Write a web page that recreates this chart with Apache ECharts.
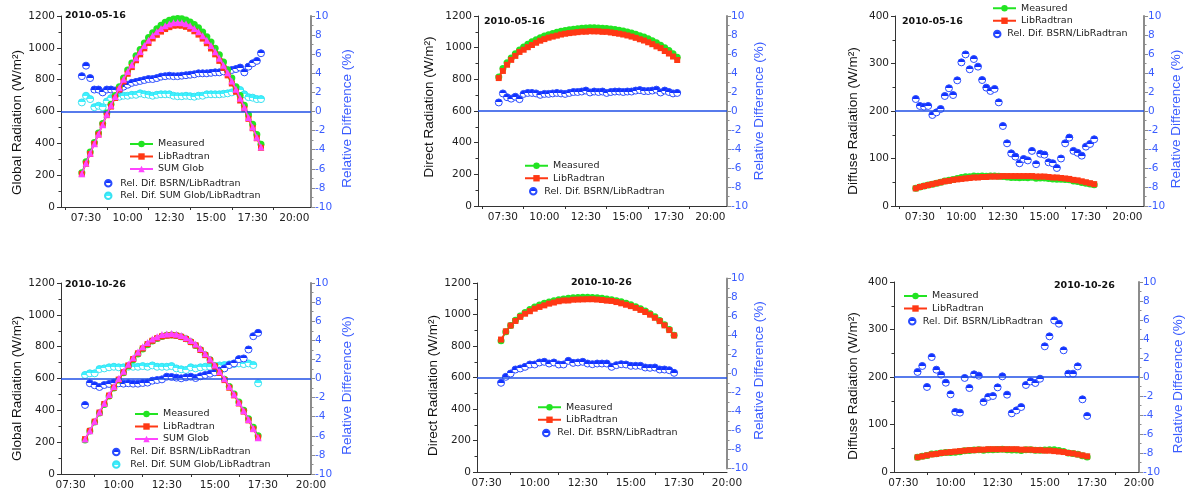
<!DOCTYPE html>
<html>
<head>
<meta charset="utf-8">
<script src="https://cdn.jsdelivr.net/npm/echarts@6/dist/echarts.min.js"></script>
<style>html,body{margin:0;padding:0;background:#fff}#c{width:1186px;height:493px}</style>
</head>
<body>
<div id="c"></div>
<script>
// ---------- categories (times) ----------
const timesMay = ['07:15','07:30','07:45','08:00','08:15','08:30','08:45','09:00','09:15','09:30','09:45','10:00','10:15','10:30','10:45','11:00','11:15','11:30','11:45','12:00','12:15','12:30','12:45','13:00','13:15','13:30','13:45','14:00','14:15','14:30','14:45','15:00','15:15','15:30','15:45','16:00','16:15','16:30','16:45','17:00','17:15','17:30','17:45','18:00'];
const timesOct = ['08:15','08:30','08:45','09:00','09:15','09:30','09:45','10:00','10:15','10:30','10:45','11:00','11:15','11:30','11:45','12:00','12:15','12:30','12:45','13:00','13:15','13:30','13:45','14:00','14:15','14:30','14:45','15:00','15:15','15:30','15:45','16:00','16:15','16:30','16:45','17:00','17:15'];

// ---------- tick labels ----------
const xTickLabels = ['07:30','10:00','12:30','15:00','17:30','20:00'];
const xTicksMay = ['06:15','08:45','11:15','13:45','16:15','18:45'];
const xTicksOct = ['08:45','11:15','13:45','16:15','18:45'];
const dateMay = '2010-05-16';
const dateOct = '2010-10-26';

// ---------- 2010-05-16 global ----------
const mayGlobMeasured = [215,285,345,405,465,525,590,645,700,755,810,860,905,950,990,1030,1065,1095,1120,1142,1160,1173,1181,1184,1182,1175,1163,1147,1126,1100,1070,1036,998,956,911,862,810,756,700,640,580,520,455,395];
const mayGlobLib = [207,272,333,396,455,515,577,631,685,738,789,837,879,922,959,997,1030,1059,1082,1102,1118,1130,1139,1141,1139,1132,1120,1104,1083,1058,1029,996,959,918,874,827,776,724,669,615,554,495,432,372];
const mayGlobSum = [209,276,337,398,458,517,583,640,695,750,802,851,894,938,977,1015,1048,1077,1101,1122,1138,1150,1158,1159,1157,1151,1138,1121,1101,1076,1048,1014,976,935,890,843,791,740,684,626,562,502,438,377];
const mayGlobRelBsrn = [3.7,4.8,3.5,2.3,2.3,2.0,2.3,2.3,2.2,2.3,2.6,2.8,3.0,3.1,3.2,3.3,3.4,3.4,3.5,3.65,3.7,3.75,3.7,3.7,3.75,3.8,3.85,3.9,4.0,4.0,4.0,4.05,4.1,4.1,4.2,4.3,4.35,4.45,4.6,4.1,4.7,5.05,5.3,6.1];
const mayGlobRelSum = [0.95,1.65,1.3,0.45,0.6,0.45,1.05,1.4,1.5,1.55,1.65,1.65,1.75,1.75,1.9,1.8,1.75,1.65,1.75,1.8,1.8,1.8,1.65,1.6,1.6,1.65,1.6,1.55,1.65,1.65,1.8,1.8,1.8,1.8,1.85,1.9,2.0,2.2,2.25,1.8,1.5,1.45,1.3,1.3];
// ---------- 2010-05-16 direct ----------
const mayDirMeasured = [815,869,905,935,962,985,1005,1022,1037,1050,1062,1073,1082,1090,1097,1103,1108,1113,1117,1120,1123,1125,1126,1126,1125,1123,1121,1118,1114,1110,1105,1099,1092,1085,1076,1067,1056,1044,1031,1016,1000,982,962,940];
const mayDirLib = [808,853,892,923,948,973,987,1003,1017,1031,1044,1054,1063,1070,1076,1083,1088,1092,1095,1098,1101,1101,1104,1103,1103,1100,1100,1096,1092,1088,1083,1077,1070,1062,1053,1045,1034,1022,1008,997,979,963,944,922];
const mayDirRel = [0.9,1.85,1.45,1.3,1.5,1.25,1.8,1.9,1.9,1.85,1.7,1.8,1.8,1.85,1.9,1.85,1.8,1.9,2.0,2.0,2.05,2.15,1.95,2.05,2.0,2.05,1.9,2.0,2.05,2.05,2.0,2.05,2.05,2.15,2.2,2.1,2.1,2.15,2.25,1.95,2.15,2.0,1.85,1.9];
// ---------- 2010-05-16 diffuse ----------
const mayDifMeasured = [37.5,40.2,42.2,44.2,45.8,47.9,50.1,52.8,54.3,55.9,57.8,59.9,61.5,61.6,63.3,62.8,63.0,62.5,63.3,63.4,62.6,62.0,60.9,60.2,60.0,59.5,59.8,59.7,60.4,58.5,59.2,59.1,57.7,56.7,56.4,56.1,56.0,55.4,52.7,51.6,49.6,48.1,46.3,44.6];
const mayDifLib = [37,40,42,44,46,48,50,52,53,55,56,57,58,59,60,60,61,61,62,62,62,63,63,63,63,63,63,63,63,62,62,62,61,60,60,59,58,57,55,54,52,50,48,46];
const mayDifRel = [1.26,0.53,0.46,0.53,-0.42,-0.14,0.21,1.58,2.39,1.68,3.23,5.12,5.96,4.39,5.47,4.67,3.26,2.46,2.11,2.32,0.91,-1.58,-3.4,-4.46,-4.8,-5.5,-5.05,-5.2,-4.2,-5.6,-4.5,-4.6,-5.4,-5.5,-6.0,-5.0,-3.4,-2.8,-4.2,-4.4,-4.7,-3.75,-3.47,-2.98];
// ---------- 2010-10-26 global ----------
const octGlobMeasured = [213,270,327,383,437,490,541,590,636,679,718,754,785,812,835,852,864,871,873,870,862,849,831,808,781,750,718,680,640,596,550,502,452,400,347,294,240];
const octGlobLib = [219,271,329,386,440,493,543,593,639,682,722,758,789,816,837,853,865,869,872,869,862,848,829,808,779,747,714,676,635,590,542,494,443,392,337,282,229];
const octGlobSum = [220,272,331,390,445,499,550,600,646,690,731,767,799,826,848,863,876,880,883,878,870,856,839,817,788,756,723,685,644,598,550,501,450,398,342,286,228];
const octGlobRelBsrn = [-2.77,-0.5,-0.71,-0.89,-0.68,-0.57,-0.43,-0.5,-0.54,-0.5,-0.54,-0.54,-0.47,-0.43,-0.23,-0.16,-0.09,0.19,0.16,0.09,0.02,0.12,0.19,0.05,0.23,0.37,0.5,0.64,0.82,1.06,1.41,1.58,2.03,2.1,3.04,4.43,4.78];
const octGlobRelSum = [0.37,0.54,0.54,0.99,1.06,1.17,1.23,1.17,1.17,1.23,1.23,1.23,1.3,1.23,1.37,1.23,1.23,1.23,1.3,1.06,0.96,0.89,1.17,1.06,1.17,1.23,1.23,1.3,1.37,1.41,1.48,1.51,1.58,1.51,1.58,1.41,-0.5];
// ---------- 2010-10-26 direct ----------
const octDirMeasured = [833,890,930,963,990,1012,1031,1047,1060,1071,1080,1088,1094,1099,1103,1106,1108,1109,1109,1108,1106,1103,1099,1094,1088,1081,1072,1062,1050,1037,1022,1005,985,962,935,904,868];
const octDirLib = [841,893,930,959,985,1005,1021,1037,1048,1058,1069,1076,1084,1089,1089,1094,1095,1096,1097,1097,1095,1092,1088,1086,1079,1071,1062,1053,1042,1029,1016,999,979,958,931,901,867];
const octDirRel = [-0.98,-0.35,0.0,0.42,0.53,0.7,0.95,0.95,1.16,1.23,1.05,1.16,0.95,0.95,1.33,1.12,1.16,1.23,1.05,0.98,1.05,1.05,1.05,0.7,0.88,0.98,0.95,0.81,0.81,0.81,0.63,0.6,0.63,0.42,0.42,0.35,0.07];
// ---------- 2010-10-26 diffuse ----------
const octDifMeasured = [31.2,33.4,34.6,37.8,38.3,40.1,40.8,41.2,41.4,42.4,45.0,45.5,46.1,47.1,45.8,47.0,47.0,47.5,48.0,47.1,46.2,46.3,45.5,46.6,46.8,45.7,45.9,46.5,46.9,46.6,45.4,43.2,40.1,39.1,37.4,34.2,31.6];
const octDifLib = [31,33,35,37,38,40,41,42,43,44,45,46,46,47,47,48,48,48,48,48,48,48,47,47,47,46,46,45,45,44,43,42,40,39,37,35,33];
const octDifRel = [0.53,1.16,-1.05,2.1,0.77,0.25,-0.6,-1.82,-3.68,-3.75,-0.1,-1.16,0.28,0.14,-2.63,-2.1,-2.0,-1.09,0.07,-1.86,-3.82,-3.51,-3.16,-0.84,-0.46,-0.63,-0.18,3.23,4.28,5.96,5.61,2.81,0.35,0.35,1.12,-2.35,-4.1];

// ---------- helpers ----------
const toH = s => { const p = s.split(':'); return (+p[0]) + (+p[1]) / 60; };
const fmtH = v => { const h = Math.floor(v + 1e-6); const m = Math.round((v - h) * 60); return String(h).padStart(2, '0') + ':' + String(m).padStart(2, '0'); };
const plain = v => String(v);
const pairs = (times, vals) => times.map((t, i) => [toH(t), vals[i]]);

const FONT = '"DejaVu Sans", Verdana, sans-serif';
const NAMEFONT = '"Liberation Sans", Arial, sans-serif';
const BLUE_TXT = '#3a5cff';
const C_MEAS = '#22e422', C_LIB = '#ff3814', C_SUM = '#ff44ff';
const C_BSRN = '#1232ff', C_BSRN_B = '#2a4cff', C_CYAN = '#3ef2ff', C_CYAN_B = '#38e2f2';
const ZERO_COLOR = '#1f4fe6';

const half = c => new echarts.graphic.LinearGradient(0, 0, 0, 1, [
  { offset: 0, color: c }, { offset: 0.5, color: c }, { offset: 0.5, color: '#ffffff' }, { offset: 1, color: '#ffffff' }]);

// grids
const grids = [
  { left: 61, top: 16, width: 250, height: 191 },
  { left: 478, top: 16, width: 249, height: 190 },
  { left: 895, top: 16, width: 249, height: 190 },
  { left: 61, top: 283, width: 250, height: 191 },
  { left: 477, top: 283, width: 250, height: 189 },
  { left: 894, top: 282, width: 250, height: 190 },
  { left: 477, top: 278.5, width: 250, height: 190 } // right axis of panel 5 (offset in reference)
];

const xAxes = [];
const yAxes = [];
const series = [];
const legends = [];

function addX(gi, min, max, ticks, show) {
  xAxes.push({
    gridIndex: gi, type: 'value', min, max, show: show !== false,
    axisLine: { onZero: false, lineStyle: { color: '#333', width: 1 } },
    axisTick: { customValues: ticks.map(toH), length: 3, lineStyle: { color: '#333' } },
    axisLabel: { customValues: xTickLabels.map(toH), formatter: fmtH, fontSize: 10.5, color: '#222', fontFamily: FONT, margin: 6 },
    splitLine: { show: false }
  });
  return xAxes.length - 1;
}
function addYLeft(gi, max, interval, name, gap, pad) {
  yAxes.push({
    gridIndex: gi, type: 'value', position: 'left', min: 0, max, interval,
    axisLine: { show: true, lineStyle: { color: '#333', width: 1 } },
    axisTick: { show: true, length: 4, lineStyle: { color: '#333' } },
    minorTick: { show: true, splitNumber: 2, length: 2.5, lineStyle: { color: '#333' } },
    axisLabel: { fontSize: 10.5, color: '#222', fontFamily: FONT, margin: 6, formatter: plain },
    splitLine: { show: false },
    name, nameLocation: 'middle', nameGap: gap, nameRotate: 90,
    nameTextStyle: { fontFamily: NAMEFONT, fontSize: 13.5, color: '#111', padding: pad }
  });
  return yAxes.length - 1;
}
function addYRight(gi, gap, pad) {
  yAxes.push({
    gridIndex: gi, type: 'value', position: 'right', min: -10, max: 10, interval: 2,
    axisLine: { show: true, lineStyle: { color: '#8c8c8c', width: 2 } },
    axisTick: { show: true, length: 4, lineStyle: { color: '#8c8c8c' } },
    minorTick: { show: true, splitNumber: 2, length: 2.5, lineStyle: { color: '#8c8c8c' } },
    axisLabel: { fontSize: 10.5, color: BLUE_TXT, fontFamily: FONT, margin: 4, formatter: plain },
    splitLine: { show: false },
    name: 'Relative Difference (%)', nameLocation: 'middle', nameGap: gap, nameRotate: 90,
    nameTextStyle: { fontFamily: NAMEFONT, fontSize: 13.5, color: BLUE_TXT, padding: pad }
  });
  return yAxes.length - 1;
}
function lineS(name, times, vals, xi, yi, color, symbol, size, z, zeroAt) {
  const s = {
    type: 'line', name, xAxisIndex: xi, yAxisIndex: yi, data: pairs(times, vals),
    symbol, symbolSize: size, showAllSymbol: true, z,
    itemStyle: { color }, lineStyle: { color, width: 1.5 }, emphasis: { disabled: true }
  };
  if (zeroAt !== undefined) {
    s.markLine = { silent: true, symbol: ['none', 'none'], label: { show: false },
      lineStyle: { color: ZERO_COLOR, width: 1.5, type: 'solid' }, data: [{ yAxis: zeroAt }] };
  }
  return s;
}
function relS(name, times, vals, xi, yi, top, border, z) {
  return {
    type: 'scatter', name, xAxisIndex: xi, yAxisIndex: yi, data: pairs(times, vals),
    symbol: 'circle', symbolSize: 7, z,
    itemStyle: { color: half(top), borderColor: border, borderWidth: 1, opacity: 1 },
    emphasis: { disabled: true }
  };
}
function legend(left, top, names, w, h) {
  legends.push({
    orient: 'vertical', left, top, padding: 0, itemGap: 0, itemWidth: w, itemHeight: h,
    data: names, selectedMode: false,
    textStyle: { fontFamily: FONT, fontSize: 9.5, color: '#222', lineHeight: 12.5 }
  });
}

const N_MEAS = 'Measured', N_LIB = 'LibRadtran', N_SUM = 'SUM Glob';
const N_RB = 'Rel. Dif. BSRN/LibRadtran', N_RS = 'Rel. Dif. SUM Glob/LibRadtran';

// Panel 1: May global
{
  const x = addX(0, 6, 21, xTicksMay);
  const yl = addYLeft(0, 1200, 200, 'Global Radiation (W/m²)', 36, [0, 22, 0, 0]);
  const yr = addYRight(0, 29, [0, 14, 0, 0]);
  series.push(relS(N_RS, timesMay, mayGlobRelSum, x, yr, C_CYAN, C_CYAN_B, 2));
  series.push(relS(N_RB, timesMay, mayGlobRelBsrn, x, yr, C_BSRN, C_BSRN_B, 2));
  series.push(lineS(N_MEAS, timesMay, mayGlobMeasured, x, yl, C_MEAS, 'circle', 7, 3, 600));
  series.push(lineS(N_LIB, timesMay, mayGlobLib, x, yl, C_LIB, 'rect', 6, 4));
  series.push(lineS(N_SUM, timesMay, mayGlobSum, x, yl, C_SUM, 'triangle', 7, 5));
  legend(129, 137.75, [N_MEAS, N_LIB, N_SUM], 23, 8);
  legend(104, 177, [N_RB, N_RS], 14, 6.5);
}
// Panel 2: May direct
{
  const x = addX(1, 6, 21, xTicksMay);
  const yl = addYLeft(1, 1200, 200, 'Direct Radiation (W/m²)', 42, [0, 0, 0, 8]);
  const yr = addYRight(1, 23, [0, 0, 0, 0]);
  series.push(relS(N_RB, timesMay, mayDirRel, x, yr, C_BSRN, C_BSRN_B, 2));
  series.push(lineS(N_MEAS, timesMay, mayDirMeasured, x, yl, C_MEAS, 'circle', 7, 3, 600));
  series.push(lineS(N_LIB, timesMay, mayDirLib, x, yl, C_LIB, 'rect', 6, 4));
  legend(524, 159.5, [N_MEAS, N_LIB], 23, 8);
  legend(529, 185, [N_RB], 12, 6.5);
}
// Panel 3: May diffuse
{
  const x = addX(2, 6, 21, xTicksMay);
  const yl = addYLeft(2, 400, 100, 'Diffuse Radiation (W/m²)', 35, [0, 20, 0, 0]);
  const yr = addYRight(2, 25, [0, 16, 0, 0]);
  series.push(relS(N_RB, timesMay, mayDifRel, x, yr, C_BSRN, C_BSRN_B, 2));
  series.push(lineS(N_MEAS, timesMay, mayDifMeasured, x, yl, C_MEAS, 'circle', 7, 3, 200));
  series.push(lineS(N_LIB, timesMay, mayDifLib, x, yl, C_LIB, 'rect', 6, 4));
  legend(992, 2, [N_MEAS, N_LIB], 23, 8);
  legend(993, 27.75, [N_RB], 10, 6.5);
}
// Panel 4: Oct global
{
  const x = addX(3, 7, 20, xTicksOct);
  const yl = addYLeft(3, 1200, 200, 'Global Radiation (W/m²)', 36, [0, 20, 0, 0]);
  const yr = addYRight(3, 29, [0, 14, 0, 0]);
  series.push(relS(N_RS, timesOct, octGlobRelSum, x, yr, C_CYAN, C_CYAN_B, 2));
  series.push(relS(N_RB, timesOct, octGlobRelBsrn, x, yr, C_BSRN, C_BSRN_B, 2));
  series.push(lineS(N_MEAS, timesOct, octGlobMeasured, x, yl, C_MEAS, 'circle', 7, 3, 600));
  series.push(lineS(N_LIB, timesOct, octGlobLib, x, yl, C_LIB, 'rect', 6, 4));
  series.push(lineS(N_SUM, timesOct, octGlobSum, x, yl, C_SUM, 'triangle', 7, 5));
  legend(134, 407.75, [N_MEAS, N_LIB, N_SUM], 23, 8);
  legend(112, 445.75, [N_RB, N_RS], 18, 6.5);
}
// Panel 5: Oct direct (right axis sits in its own, slightly raised, grid)
{
  const x = addX(4, 7, 20, xTicksOct);
  const xr = addX(6, 7, 20, xTicksOct, false);
  const yl = addYLeft(4, 1200, 200, 'Direct Radiation (W/m²)', 36, [0, 16, 0, 0]);
  const yr = addYRight(6, 15, [0, 0, 0, 6]);
  series.push(relS(N_RB, timesOct, octDirRel, xr, yr, C_BSRN, C_BSRN_B, 2));
  series.push(lineS(N_MEAS, timesOct, octDirMeasured, x, yl, C_MEAS, 'circle', 7, 3, 600));
  series.push(lineS(N_LIB, timesOct, octDirLib, x, yl, C_LIB, 'rect', 6, 4));
  legend(537, 401, [N_MEAS, N_LIB], 23, 8);
  legend(542, 426.75, [N_RB], 12, 6.5);
}
// Panel 6: Oct diffuse
{
  const x = addX(5, 7, 20, xTicksOct);
  const yl = addYLeft(5, 400, 100, 'Diffuse Radiation (W/m²)', 34, [0, 18, 0, 0]);
  const yr = addYRight(5, 32, [0, 14, 0, 0]);
  series.push(relS(N_RB, timesOct, octDifRel, x, yr, C_BSRN, C_BSRN_B, 2));
  series.push(lineS(N_MEAS, timesOct, octDifMeasured, x, yl, C_MEAS, 'circle', 7, 3, 200));
  series.push(lineS(N_LIB, timesOct, octDifLib, x, yl, C_LIB, 'rect', 6, 4));
  legend(903, 289.75, [N_MEAS, N_LIB], 23, 8);
  legend(908, 315, [N_RB], 11, 6.5);
}

const dateStyle = t => ({ text: t, font: 'bold 9.5px ' + FONT, fill: '#111' });
const graphics = [
  { type: 'text', left: 65, top: 11, style: dateStyle(dateMay) },
  { type: 'text', left: 484, top: 16.5, style: dateStyle(dateMay) },
  { type: 'text', left: 902, top: 17, style: dateStyle(dateMay) },
  { type: 'text', left: 65, top: 279.5, style: dateStyle(dateOct) },
  { type: 'text', left: 571, top: 278, style: dateStyle(dateOct) },
  { type: 'text', left: 1054, top: 280.5, style: dateStyle(dateOct) }
];

const chart = echarts.init(document.getElementById('c'), null, { renderer: 'canvas' });
chart.setOption({
  animation: false,
  backgroundColor: '#ffffff',
  textStyle: { fontFamily: FONT },
  grid: grids,
  xAxis: xAxes,
  yAxis: yAxes,
  legend: legends,
  graphic: graphics,
  series
});
</script>
</body>
</html>
